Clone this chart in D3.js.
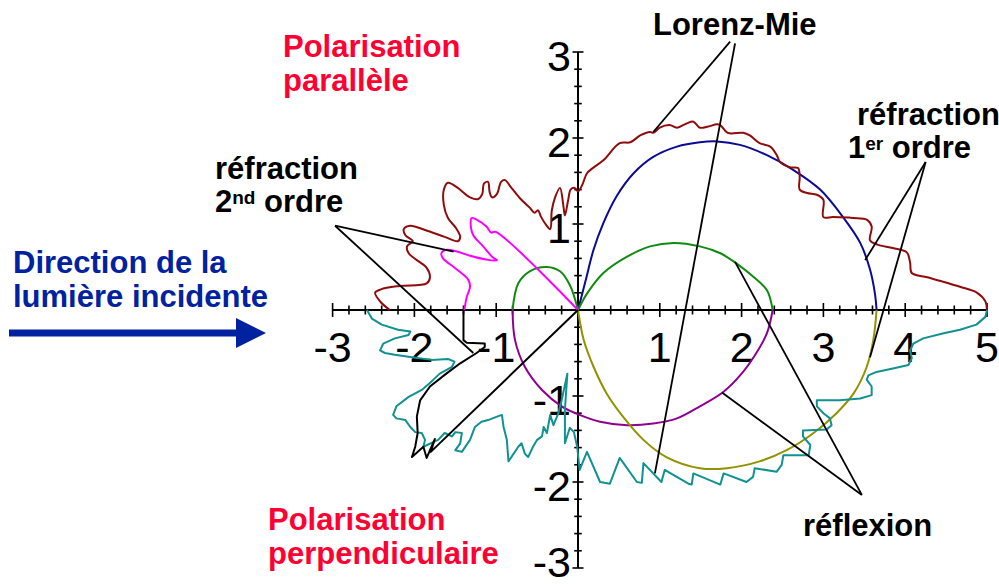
<!DOCTYPE html>
<html>
<head>
<meta charset="utf-8">
<script src="https://cdn.jsdelivr.net/npm/d3@7"></script>
<style>
  html, body { margin: 0; padding: 0; background: #fff; }
  svg { display: block; }
</style>
</head>
<body>
<svg id="chart" width="999" height="587"></svg>
<script>
// Axis extent and tick labels
const xDomain = [-3, 5];
const yDomain = [-3, 3];
const xTickLabels = [-3, -2, -1, 1, 2, 3, 4, 5];
const yTickLabels = [3, 2, 1, -1, -2, -3];

// Lorenz-Mie, parallel polarisation (upper half)
const mieParallel = [
  [-2.30,0.00],[-2.41,0.09],[-2.48,0.20],[-2.41,0.24],[-2.18,0.28],[-1.85,0.31],[-1.81,0.38],[-1.85,0.49],
  [-1.97,0.58],[-2.07,0.66],[-2.09,0.74],[-2.02,0.80],[-2.11,0.87],[-2.13,0.94],[-2.05,0.98],[-1.87,0.93],
  [-1.63,0.85],[-1.47,0.80],[-1.44,0.85],[-1.49,0.95],[-1.59,1.07],[-1.64,1.22],[-1.64,1.40],[-1.59,1.48],
  [-1.47,1.42],[-1.32,1.31],[-1.22,1.29],[-1.17,1.35],[-1.15,1.47],[-1.10,1.49],[-1.08,1.37],[-1.05,1.31],
  [-0.99,1.35],[-0.94,1.49],[-0.89,1.51],[-0.83,1.44],[-0.71,1.30],[-0.59,1.19],[-0.53,1.13],[-0.49,1.16],
  [-0.45,1.08],[-0.39,0.99],[-0.34,0.94],[-0.32,1.16],[-0.28,1.31],[-0.22,1.42],[-0.18,1.22],[-0.16,1.10],
  [-0.12,1.28],[-0.09,1.40],[-0.04,1.42],[0.00,1.38],[0.05,1.45],[0.11,1.59],[0.18,1.65],[0.31,1.74],
  [0.51,1.94],[0.64,1.95],[0.76,2.03],[0.88,2.07],[0.92,2.06],[1.00,2.12],[1.12,2.15],[1.21,2.12],
  [1.33,2.17],[1.41,2.19],[1.49,2.12],[1.58,2.13],[1.70,2.16],[1.74,2.15],[1.83,2.06],[2.02,2.06],
  [2.10,2.03],[2.22,1.94],[2.35,1.90],[2.43,1.80],[2.47,1.72],[2.59,1.66],[2.69,1.65],[2.71,1.55],
  [2.71,1.40],[2.80,1.36],[2.92,1.34],[3.00,1.28],[3.00,1.08],[3.12,1.08],[3.36,1.07],[3.53,1.05],
  [3.59,0.97],[3.57,0.81],[3.66,0.76],[3.85,0.72],[4.02,0.67],[4.06,0.55],[4.08,0.43],[4.27,0.38],
  [4.46,0.33],[4.67,0.27],[4.88,0.20],[4.98,0.10],[5.00,0.00]
];

// Lorenz-Mie, perpendicular polarisation (lower half)
const miePerpendicular = [
  [-2.58,0.00],[-2.52,-0.10],[-2.40,-0.17],[-2.20,-0.23],[-2.05,-0.25],[-2.07,-0.29],[-2.24,-0.33],[-2.38,-0.39],
  [-2.42,-0.47],[-2.36,-0.50],[-2.24,-0.52],[-2.03,-0.55],[-1.79,-0.58],[-1.59,-0.57],[-1.51,-0.60],[-1.54,-0.66],
  [-1.69,-0.74],[-1.79,-0.83],[-1.91,-0.93],[-2.07,-1.01],[-2.22,-1.12],[-2.26,-1.22],[-2.22,-1.26],[-2.11,-1.28],
  [-2.05,-1.36],[-1.99,-1.42],[-1.91,-1.43],[-1.87,-1.51],[-1.89,-1.59],[-1.71,-1.51],[-1.63,-1.43],[-1.54,-1.47],
  [-1.50,-1.42],[-1.42,-1.43],[-1.44,-1.55],[-1.50,-1.63],[-1.42,-1.65],[-1.32,-1.51],[-1.26,-1.36],[-1.18,-1.30],
  [-1.10,-1.28],[-0.99,-1.24],[-0.93,-1.22],[-0.91,-1.36],[-0.87,-1.51],[-0.85,-1.76],[-0.73,-1.59],[-0.69,-1.55],
  [-0.65,-1.67],[-0.61,-1.71],[-0.55,-1.59],[-0.50,-1.51],[-0.44,-1.47],[-0.42,-1.36],[-0.38,-1.43],[-0.34,-1.22],
  [-0.30,-1.34],[-0.24,-1.20],[-0.20,-1.05],[-0.13,-0.74],[-0.16,-1.16],[-0.16,-1.55],[-0.10,-1.37],[-0.05,-1.42],
  [-0.01,-1.59],[0.02,-1.86],[0.11,-1.65],[0.27,-2.00],[0.39,-2.02],[0.51,-1.72],[0.72,-2.00],[0.78,-2.01],
  [0.80,-1.78],[1.02,-2.00],[1.06,-1.86],[1.35,-2.02],[1.39,-2.03],[1.41,-1.90],[1.74,-2.03],[1.78,-1.90],
  [2.06,-2.00],[2.14,-1.94],[2.16,-1.84],[2.43,-1.88],[2.49,-1.80],[2.51,-1.69],[2.82,-1.69],[2.84,-1.57],
  [2.75,-1.47],[2.75,-1.40],[3.04,-1.39],[3.10,-1.34],[3.08,-1.26],[3.00,-1.20],[2.92,-1.12],[2.92,-1.05],
  [3.20,-1.05],[3.45,-1.03],[3.59,-0.99],[3.59,-0.89],[3.53,-0.81],[3.55,-0.76],[3.65,-0.72],[3.85,-0.68],
  [4.04,-0.64],[4.08,-0.56],[4.06,-0.47],[4.10,-0.39],[4.22,-0.33],[4.47,-0.27],[4.67,-0.23],[4.87,-0.17],
  [4.98,-0.08],[5.00,0.00]
];

// First-order refraction
const refraction1Parallel = [
  [0.00,0.00],[0.09,0.33],[0.19,0.70],[0.31,1.01],[0.47,1.32],[0.68,1.59],[0.92,1.78],[1.21,1.90],
  [1.49,1.95],[1.70,1.96],[1.98,1.92],[2.31,1.80],[2.63,1.63],[2.96,1.40],[3.24,1.08],[3.45,0.78],
  [3.57,0.47],[3.63,0.19],[3.65,0.00]
];
const refraction1Perpendicular = [
  [0.00,0.00],[0.07,-0.35],[0.19,-0.66],[0.35,-0.97],[0.55,-1.24],[0.80,-1.51],[1.08,-1.71],[1.49,-1.84],
  [1.82,-1.84],[2.22,-1.76],[2.55,-1.63],[2.88,-1.43],[3.16,-1.20],[3.37,-0.97],[3.53,-0.66],[3.61,-0.35],
  [3.65,0.00]
];

// Reflection (parallel: two lobes, perpendicular: one arc)
const reflectionParallelBack = [
  [-0.80,0.00],[-0.73,0.31],[-0.59,0.45],[-0.38,0.50],[-0.22,0.45],[-0.10,0.29],[0.00,0.00]
];
const reflectionParallelFront = [
  [0.00,0.00],[0.11,0.19],[0.31,0.43],[0.60,0.62],[0.88,0.74],[1.17,0.78],[1.49,0.74],[1.74,0.66],
  [1.94,0.54],[2.14,0.39],[2.31,0.23],[2.38,0.00]
];
const reflectionPerpendicular = [
  [-0.80,0.00],[-0.77,-0.35],[-0.65,-0.66],[-0.44,-0.93],[-0.20,-1.12],[0.02,-1.22],[0.27,-1.30],[0.60,-1.34],
  [0.92,-1.32],[1.21,-1.26],[1.49,-1.12],[1.78,-0.95],[2.00,-0.74],[2.18,-0.50],[2.31,-0.27],[2.38,0.00]
];

// Second-order refraction
const refraction2Parallel = [
  [0.00,0.00],[-1.01,0.91],[-1.06,0.90],[-1.12,0.97],[-1.24,1.05],[-1.30,1.07],[-1.31,0.97],[-1.28,0.87],
  [-1.16,0.74],[-1.04,0.61],[-0.99,0.58],[-1.08,0.58],[-1.32,0.63],[-1.48,0.68],[-1.61,0.70],[-1.67,0.66],
  [-1.65,0.60],[-1.52,0.50],[-1.40,0.41],[-1.34,0.35],[-1.32,0.27],[-1.36,0.15],[-1.39,0.00]
];
const refraction2Perpendicular = [
  [-1.40,0.00],[-1.40,-0.35],[-1.36,-0.38],[-1.14,-0.39],[-1.14,-0.43],[-1.24,-0.50],[-1.44,-0.62],[-1.61,-0.74],
  [-1.81,-0.89],[-1.93,-1.05],[-1.97,-1.24],[-1.96,-1.43],[-1.99,-1.59],[-2.03,-1.71],[-1.89,-1.59],[-1.85,-1.72],
  [-1.75,-1.50],[-1.80,-1.65],[0.00,0.00]
];

// Leader lines from the labels to the curves: [from, to]
const leadersLorenzMie = [[[1.86,3.12],[0.92,2.07]], [[1.92,3.10],[0.94,-1.90]]];
const leadersRefraction1 = [[[4.25,1.72],[3.51,0.58]], [[4.25,1.72],[3.57,-0.55]]];
const leadersRefraction2 = [[[-2.97,0.98],[-1.52,0.68]], [[-2.97,0.98],[-1.28,-0.50]]];
const leadersReflection = [[[3.47,-2.15],[1.92,0.56]], [[3.47,-2.15],[1.76,-0.96]]];

const svg = d3.select("#chart");
const x = d3.scaleLinear().domain(xDomain).range([332.6, 987]);
const y = d3.scaleLinear().domain(yDomain).range([568, 52]);

const FONT = "'Liberation Sans', Arial, Helvetica, sans-serif";

// ---- axes ----
const axes = svg.append("g").attr("stroke", "#000").attr("fill", "none");
axes.append("line").attr("x1", x(xDomain[0])).attr("x2", x(xDomain[1]))
  .attr("y1", y(0)).attr("y2", y(0)).attr("stroke-width", 2);
axes.append("line").attr("x1", x(0)).attr("x2", x(0))
  .attr("y1", y(yDomain[0])).attr("y2", y(yDomain[1])).attr("stroke-width", 2);

const isMajor = v => Math.abs(v - Math.round(v)) < 1e-6;
const xSteps = d3.range(xDomain[0] * 5, xDomain[1] * 5 + 1).map(i => i / 5);
const ySteps = d3.range(yDomain[0] * 5, yDomain[1] * 5 + 1).map(i => i / 5);

axes.selectAll(".xt").data(xSteps).join("line")
  .attr("x1", d => x(d)).attr("x2", d => x(d))
  .attr("y1", d => y(0) - (isMajor(d) ? 7 : 4.5))
  .attr("y2", d => y(0) + (isMajor(d) ? 7 : 4.5))
  .attr("stroke-width", 1.6);
axes.selectAll(".yt").data(ySteps).join("line")
  .attr("y1", d => y(d)).attr("y2", d => y(d))
  .attr("x1", d => x(0) - (isMajor(d) ? 5.5 : 3.8))
  .attr("x2", d => x(0) + (isMajor(d) ? 5.5 : 3.8))
  .attr("stroke-width", 1.6);

const tickText = svg.append("g").attr("font-family", FONT).attr("font-size", 43).attr("fill", "#000");
tickText.selectAll(".xl").data(xTickLabels).join("text")
  .attr("x", d => x(d)).attr("y", y(0) + 52)
  .attr("text-anchor", "middle").text(d => d < 0 ? "-" + Math.abs(d) : d);
// the lowest label is kept inside the canvas
tickText.selectAll(".yl").data(yTickLabels).join("text")
  .attr("x", x(0) - 7).attr("y", d => Math.min(y(d) + 19, 577))
  .attr("text-anchor", "end").text(d => d < 0 ? "-" + Math.abs(d) : d);

// ---- curves ----
const lineSmooth = d3.line().x(d => x(d[0])).y(d => y(d[1])).curve(d3.curveCatmullRom.alpha(0.5));
const lineRaw = d3.line().x(d => x(d[0])).y(d => y(d[1])).curve(d3.curveLinear);

const series = [
  { data: reflectionPerpendicular, color: "#900090", gen: lineSmooth },
  { data: refraction1Perpendicular, color: "#929200", gen: lineSmooth },
  { data: refraction1Parallel, color: "#0a0a96", gen: lineSmooth },
  { data: reflectionParallelBack, color: "#108a10", gen: lineSmooth },
  { data: reflectionParallelFront, color: "#108a10", gen: lineSmooth },
  { data: refraction2Parallel, color: "#ff00ff", gen: lineSmooth },
  { data: miePerpendicular, color: "#119191", gen: lineRaw },
  { data: mieParallel, color: "#900c0c", gen: lineSmooth },
  { data: refraction2Perpendicular, color: "#000000", gen: lineRaw }
];
svg.append("g").selectAll("path").data(series).join("path")
  .attr("d", d => d.gen(d.data))
  .attr("fill", "none")
  .attr("stroke", d => d.color)
  .attr("stroke-width", 2)
  .attr("stroke-linejoin", "round");

// ---- leader lines ----
const leaders = [].concat(leadersLorenzMie, leadersRefraction1, leadersRefraction2, leadersReflection);
svg.append("g").selectAll("line").data(leaders).join("line")
  .attr("x1", d => x(d[0][0])).attr("y1", d => y(d[0][1]))
  .attr("x2", d => x(d[1][0])).attr("y2", d => y(d[1][1]))
  .attr("stroke", "#000").attr("stroke-width", 1.8);

// ---- annotations ----
const notes = svg.append("g").attr("font-family", FONT).attr("font-weight", "bold").attr("font-size", 31);

function block(xPos, yPos, lines, color) {
  const t = notes.append("text").attr("x", xPos).attr("y", yPos).attr("fill", color);
  lines.forEach((ln, i) => {
    t.append("tspan").attr("x", xPos).attr("dy", i === 0 ? 0 : 34).text(ln);
  });
}
function ordinal(xPos, yPos, num, sup, rest) {
  const t = notes.append("text").attr("x", xPos).attr("y", yPos).attr("fill", "#000");
  t.append("tspan").text(num);
  t.append("tspan").attr("font-size", 19).attr("dy", -8).text(sup);
  t.append("tspan").attr("dy", 8).text(rest);
}

block(283, 57, ["Polarisation", "parallèle"], "#ff0033");
block(268, 530, ["Polarisation", "perpendiculaire"], "#ff0033");
block(13, 273, ["Direction de la", "lumière incidente"], "#0022a0");

notes.append("text").attr("x", 653).attr("y", 35).attr("fill", "#000").text("Lorenz-Mie");
notes.append("text").attr("x", 857).attr("y", 125).attr("fill", "#000").text("réfraction");
ordinal(848, 158, "1", "er", "\u00a0ordre");
notes.append("text").attr("x", 215).attr("y", 179).attr("fill", "#000").text("réfraction");
ordinal(215, 212, "2", "nd", "\u00a0ordre");
notes.append("text").attr("x", 803).attr("y", 536).attr("fill", "#000").text("réflexion");

// incident light arrow
svg.append("path")
  .attr("d", "M9,329.5 H236 V318 L266,333 L236,348 V336.5 H9 Z")
  .attr("fill", "#0022a0");
</script>
</body>
</html>
